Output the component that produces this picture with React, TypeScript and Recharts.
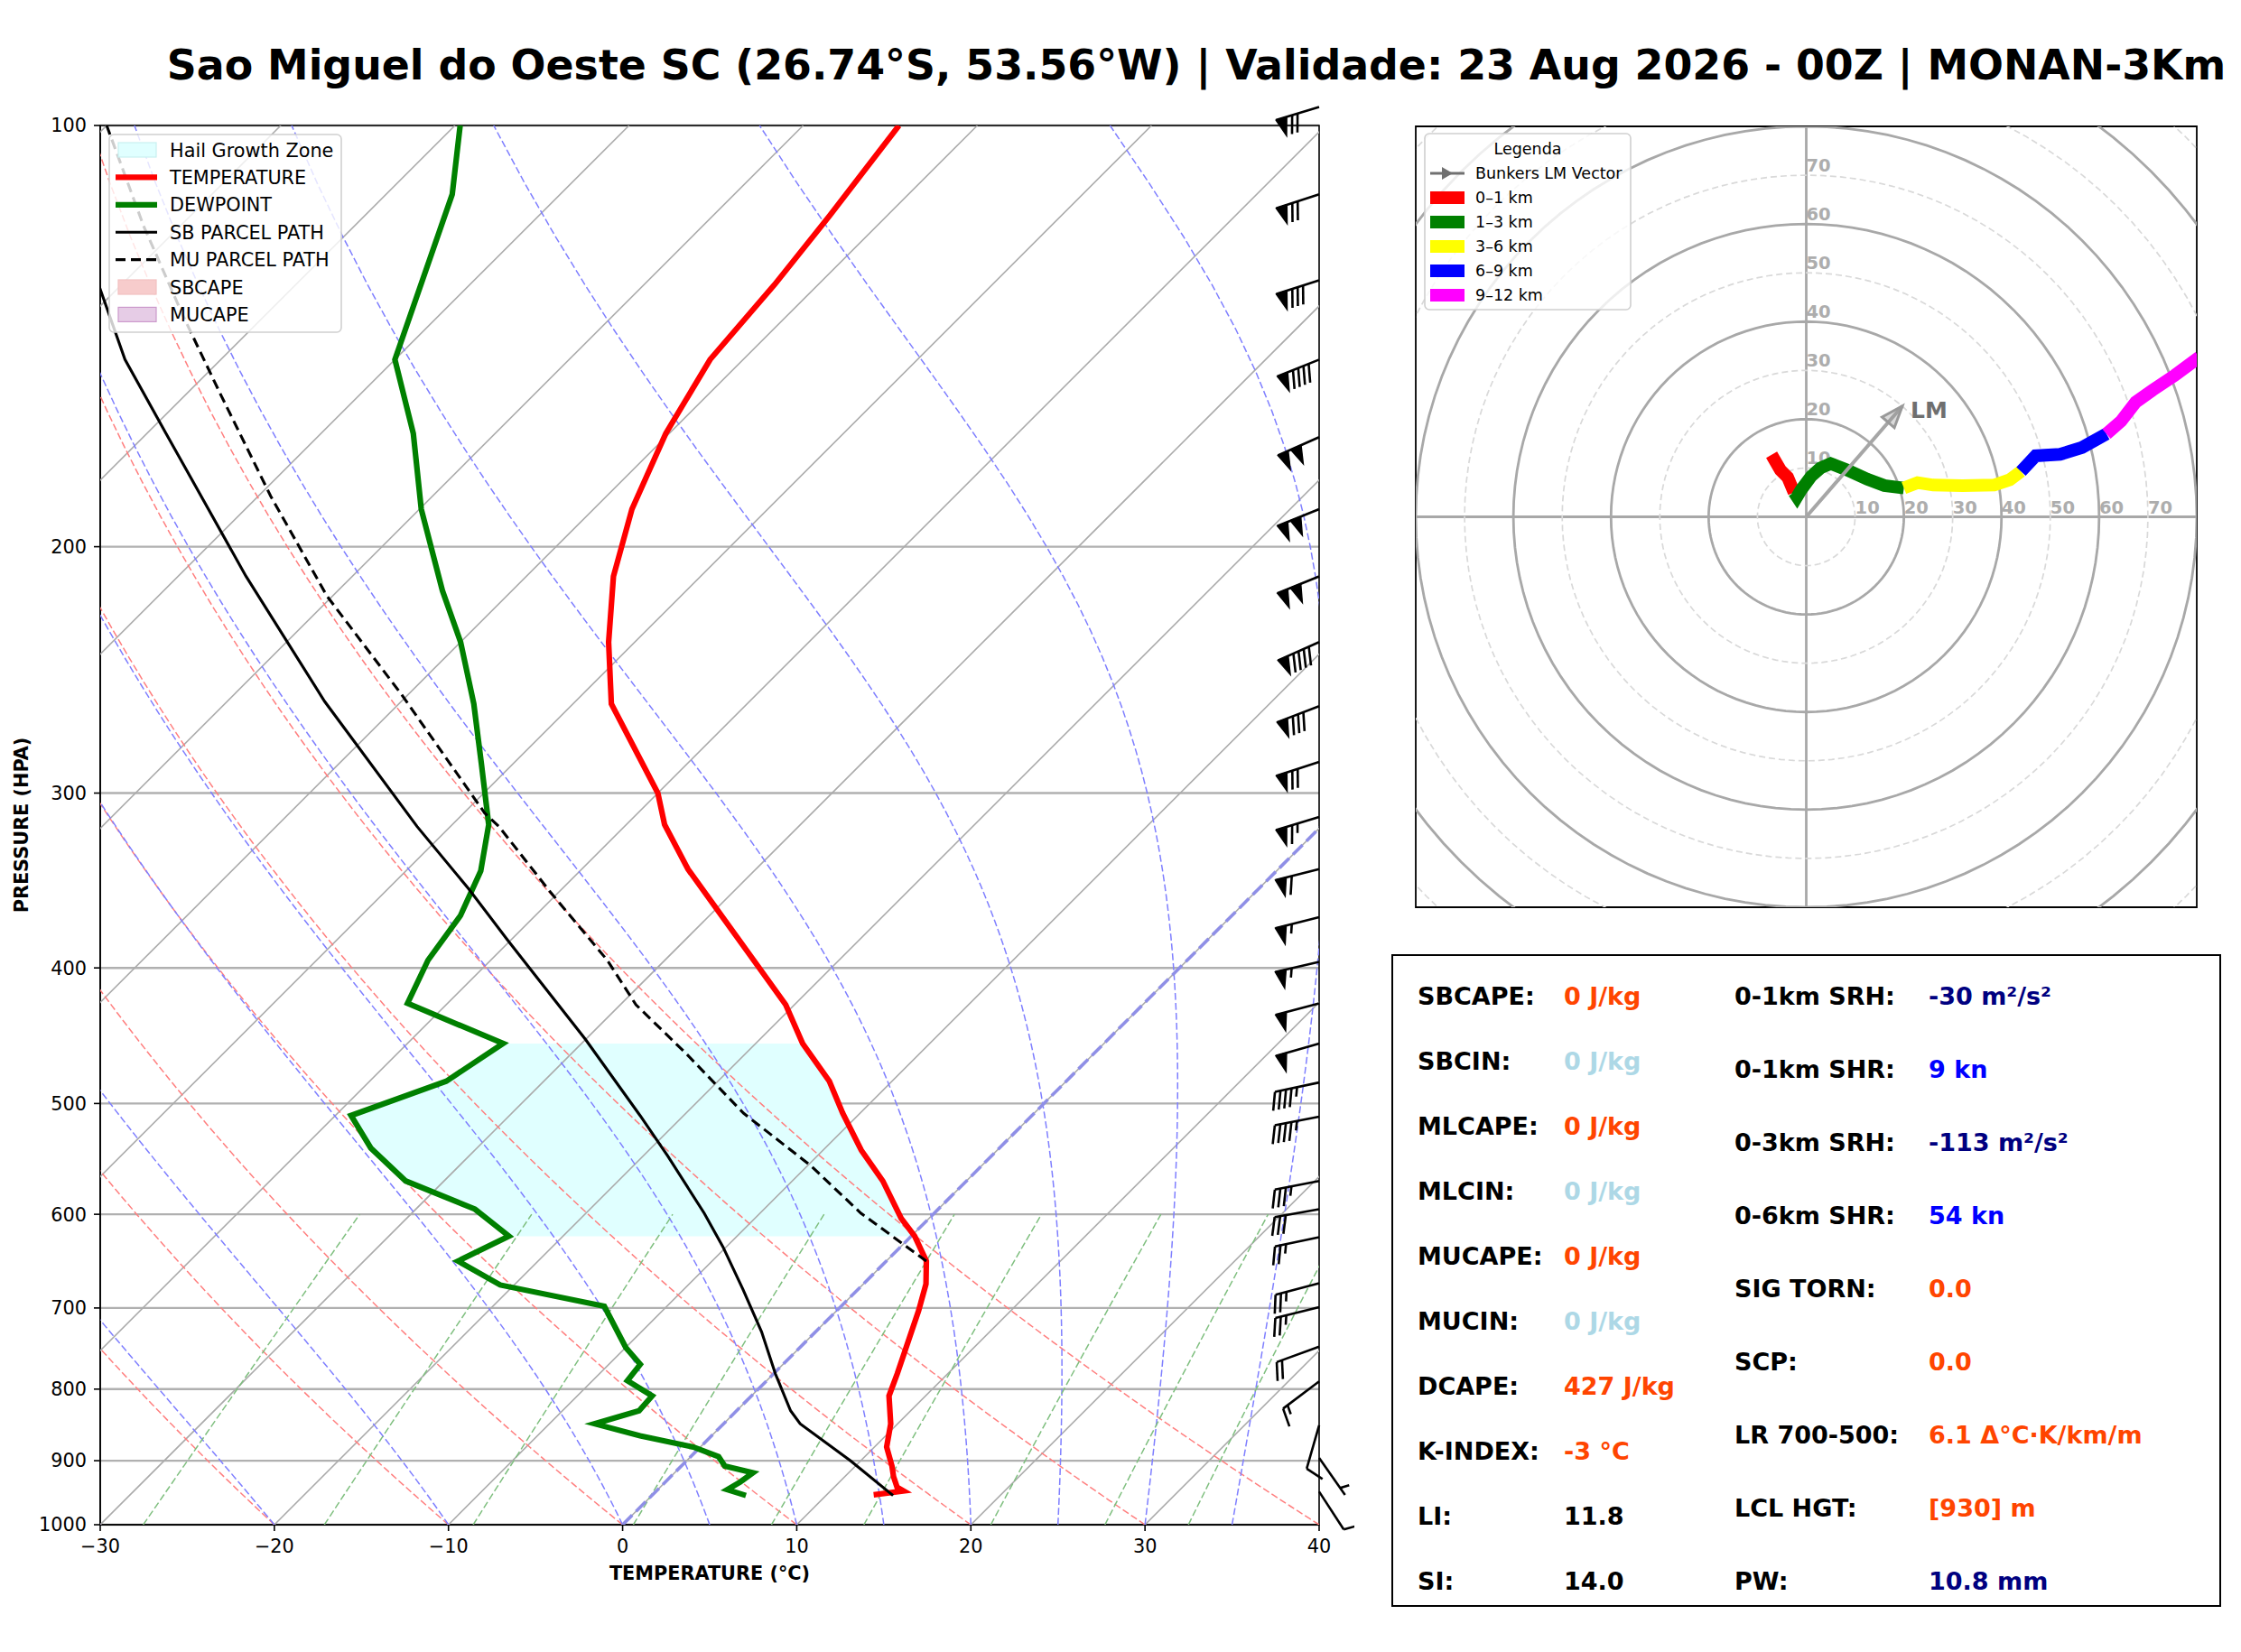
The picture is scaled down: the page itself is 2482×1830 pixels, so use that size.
import { CartesianGrid, ComposedChart, ReferenceArea, ReferenceLine, Scatter, XAxis, YAxis } from "recharts";

const FONT = '"DejaVu Sans", Verdana, sans-serif';

// figure layout, in px
const FIG_W = 2482;
const FIG_H = 1830;
const SKEW_LEFT = 111;
const SKEW_TOP = 139;
const SKEW_W = 1350;
const SKEW_H = 1550;
const SKEW_CHART_W = 1500;
const SKEW_CHART_H = 1780;
const Y_AXIS_W = 100;
const X_AXIS_H = 64;
const HODO_LEFT = 1568;
const HODO_TOP = 140;
const HODO_SIZE = 865;

const T_MIN = -30;
const T_MAX = 40;
const P_TOP = 100;
const P_BOTTOM = 1000;
const BARB_P_TOP = 90;
// degC shift per decade of pressure, gives 45 degree isotherms
const SKEW = ((T_MAX - T_MIN) * SKEW_H) / SKEW_W;

const temperatureTicks = [-30, -20, -10, 0, 10, 20, 30, 40];
const pressureTicks = [100, 200, 300, 400, 500, 600, 700, 800, 900, 1000];

// sounding
const tempPressure = [100, 116, 130, 147, 166, 188, 210, 234, 259, 300, 316, 340, 393, 425, 453, 482, 508, 540, 568, 604, 622, 648, 673, 703, 747, 780, 809, 847, 880, 908, 924, 940, 946, 952];
const temperature = [-64.5, -63.3, -62.5, -61.9, -60.2, -57.8, -55.0, -51.5, -47.8, -40.0, -37.8, -33.9, -25.2, -20.5, -17.3, -13.6, -11.0, -7.8, -4.8, -1.6, 0.2, 2.3, 3.6, 4.7, 6.1, 7.1, 7.9, 9.6, 10.7, 12.1, 12.8, 13.6, 14.2, 12.7];

const dewPressure = [100, 112, 147, 166, 188, 215, 234, 259, 286, 316, 341, 367, 395, 424, 453, 482, 510, 538, 568, 595, 622, 648, 674, 698, 747, 768, 789, 809, 829, 847, 864, 880, 894, 908, 918, 932, 944, 953];
const dewpoint = [-89.7, -86.2, -80.0, -74.7, -69.9, -64.0, -60.0, -55.7, -51.8, -47.9, -45.7, -44.3, -43.6, -42.3, -34.5, -35.6, -39.1, -36.1, -32.2, -26.6, -23.1, -24.6, -20.8, -13.6, -10.0, -8.2, -8.0, -5.7, -5.6, -7.4, -4.1, -0.4, 1.6, 2.5, 4.5, 4.3, 4.0, 5.4];

const sbParcelPressure = [953, 900, 847, 829, 780, 728, 679, 633, 599, 545, 510, 450, 382, 351, 317, 258, 210, 166, 147, 130];
const sbParcelTemp = [13.85, 9.4, 4.4, 3.1, 0.1, -3.1, -6.6, -10.2, -13.2, -18.6, -22.5, -30.0, -40.2, -45.4, -51.9, -64.4, -76.1, -88.9, -95.5, -101.3];

const muParcelPressure = [648, 599, 554, 508, 460, 425, 395, 353, 317, 310, 255, 217, 184, 156, 137, 118, 100];
const muParcelTemp = [2.3, -4.2, -9.8, -16.7, -23.5, -29.1, -33.3, -40.5, -47.2, -48.8, -60.4, -70.3, -79.3, -87.9, -94.6, -102.1, -110.0];

const hailZone = [453, 622];

// wind barbs: pressure, direction (deg), speed (kt)
const barbPressure = [97, 112, 129, 147, 167, 188, 210, 234, 260, 285, 312, 340, 368, 396, 424, 453, 483, 511, 568, 595, 623, 672, 699, 746, 790, 849, 896, 947];
const barbDirection = [253, 252, 252, 248, 246, 248, 248, 246, 249, 252, 253, 256, 256, 257, 255, 254, 258, 259, 259, 260, 258, 255, 256, 250, 233, 196, 145, 147];
const barbSpeed = [70, 70, 80, 90, 100, 100, 100, 90, 80, 70, 65, 60, 55, 55, 50, 50, 45, 45, 35, 30, 25, 25, 25, 20, 15, 10, 5, 10];

// background lines of the diagram
const isothermTemps = [-110, -100, -90, -80, -70, -60, -50, -40, -30, -20, -10, 0, 10, 20, 30, 40];
const dryAdiabatTemps = [-30, -20, -10, 0, 10, 20, 30, 40];
const moistAdiabatTemps = [-30, -20, -10, 0, 5, 10, 15, 20, 25, 30, 35];
const mixingRatios = [0.4, 1, 2, 4, 7, 10, 16, 24, 32];

// hodograph (kt), one pair of arrays per layer
const hodoU01 = [-7.1, -5.3, -3.8, -2.5];
const hodoV01 = [12.7, 9.6, 8.1, 5.0];
const hodoU13 = [-2.5, -1.9, -1.0, 1.0, 2.9, 5.0, 8.4, 12.5, 16.0, 20.0];
const hodoV13 = [5.0, 4.1, 5.6, 8.3, 10.0, 10.9, 9.6, 7.7, 6.4, 5.9];
const hodoU36 = [20.0, 22.8, 26.0, 32.0, 38.5, 41.7, 44.0];
const hodoV36 = [5.9, 7.0, 6.5, 6.4, 6.5, 7.6, 9.3];
const hodoU69 = [44.0, 47.0, 52.0, 56.5, 61.5];
const hodoV69 = [9.3, 12.5, 12.8, 14.2, 17.0];
const hodoU912 = [61.5, 64.5, 67.5, 71.0, 75.5, 80.5];
const hodoV912 = [17.0, 19.6, 23.5, 26.0, 29.0, 32.7];
const hodoLabels = ["0–1 km", "1–3 km", "3–6 km", "6–9 km", "9–12 km"];
const hodoColors = ["#ff0000", "#008000", "#ffff00", "#0000ff", "#ff00ff"];
const bunkersLM = [19.7, 22.7];
const ringLabels = [10, 20, 30, 40, 50, 60, 70];
const solidRings = [20, 40, 60, 80, 100];
const dashedRings = [10, 30, 50, 70, 90, 110];

// indices panel
const leftLabels = ["SBCAPE:", "SBCIN:", "MLCAPE:", "MLCIN:", "MUCAPE:", "MUCIN:", "DCAPE:", "K-INDEX:", "LI:", "SI:"];
const leftValues = ["0 J/kg", "0 J/kg", "0 J/kg", "0 J/kg", "0 J/kg", "0 J/kg", "427 J/kg", "-3 °C", "11.8", "14.0"];
const leftColors = ["#ff4500", "#add8e6", "#ff4500", "#add8e6", "#ff4500", "#add8e6", "#ff4500", "#ff4500", "#000000", "#000000"];
const rightLabels = ["0-1km SRH:", "0-1km SHR:", "0-3km SRH:", "0-6km SHR:", "SIG TORN:", "SCP:", "LR 700-500:", "LCL HGT:", "PW:"];
const rightValues = ["-30 m²/s²", "9 kn", "-113 m²/s²", "54 kn", "0.0", "0.0", "6.1 Δ°C·K/km/m", "[930] m", "10.8 mm"];
const rightColors = ["#000080", "#0000ff", "#000080", "#0000ff", "#ff4500", "#ff4500", "#ff4500", "#ff4500", "#000080"];

const TITLE = "Sao Miguel do Oeste SC (26.74°S, 53.56°W) | Validade: 23 Aug 2026 - 00Z | MONAN-3Km";

// thermodynamics for the reference curves
const RD = 287.04749;
const CP = 1004.6662;
const LV = 2.50084e6;
const EPS = 0.62196;

const skewX = (t: number, p: number) => t + SKEW * Math.log10(1000 / p);

const curvePressures: number[] = [];
for (let p = 1000; p >= 100; p -= 10) curvePressures.push(p);

function satVapor(tK: number) {
  const tc = tK - 273.15;
  return 6.112 * Math.exp((17.67 * tc) / (tc + 243.5));
}

function moistGradient(tK: number, p: number) {
  const es = satVapor(tK);
  const rs = (EPS * es) / (p - es);
  return (RD * tK + LV * rs) / (CP + (LV * LV * rs * EPS) / (RD * tK * tK)) / p;
}

function moistAdiabat(t0: number) {
  const pts = [{ p: 1000, x: skewX(t0, 1000) }];
  let t = t0 + 273.15;
  let p = 1000;
  const dp = -5;
  while (p > 100) {
    const k1 = moistGradient(t, p);
    const k2 = moistGradient(t + (dp / 2) * k1, p + dp / 2);
    const k3 = moistGradient(t + (dp / 2) * k2, p + dp / 2);
    const k4 = moistGradient(t + dp * k3, p + dp);
    t += (dp / 6) * (k1 + 2 * k2 + 2 * k3 + k4);
    p += dp;
    if (p % 10 === 0) pts.push({ p, x: skewX(t - 273.15, p) });
  }
  return pts;
}

function dryAdiabat(t0: number) {
  return curvePressures.map((p) => ({ p, x: skewX((t0 + 273.15) * Math.pow(p / 1000, RD / CP) - 273.15, p) }));
}

function mixingLine(w: number) {
  const r = w / 1000;
  return [1000, 950, 900, 850, 800, 750, 700, 650, 600].map((p) => {
    const lnE = Math.log((r * p) / (EPS + r) / 6.112);
    return { p, x: skewX((243.5 * lnE) / (17.67 - lnE), p) };
  });
}

const toPoints = (ps: number[], ts: number[]) => ps.map((p, i) => ({ p, x: skewX(ts[i], p) }));

const tempPoints = toPoints(tempPressure, temperature);
const dewPoints = toPoints(dewPressure, dewpoint);
const sbParcelPoints = toPoints(sbParcelPressure, sbParcelTemp);
const muParcelPoints = toPoints(muParcelPressure, muParcelTemp);
const inHail = (d: { p: number }) => d.p >= hailZone[0] && d.p <= hailZone[1];
const hailPolygon = [...tempPoints.filter(inHail), ...dewPoints.filter(inHail).reverse()];

const barbPoints = barbPressure.map((p, i) => ({ p, x: T_MAX, dir: barbDirection[i], spd: barbSpeed[i] }));

const hodoSegments = [
  [hodoU01, hodoV01],
  [hodoU13, hodoV13],
  [hodoU36, hodoV36],
  [hodoU69, hodoV69],
  [hodoU912, hodoV912],
].map(([us, vs]) => us.map((u, i) => ({ u, v: vs[i] })));

const ring = (r: number) => {
  const pts = [];
  for (let a = 0; a <= 360; a += 3) {
    pts.push({ u: r * Math.cos((a * Math.PI) / 180), v: r * Math.sin((a * Math.PI) / 180) });
  }
  return pts;
};

const noDot = () => <g />;
const minusTick = (v: number) => (v < 0 ? `\u2212${Math.abs(v)}` : `${v}`);

const BARB_LEN = 50;

function WindBarb(props: any) {
  const { cx, cy, payload } = props;
  if (typeof cx !== "number" || typeof cy !== "number" || !payload) return <g />;
  const a = (payload.dir * Math.PI) / 180;
  const dx = Math.sin(a);
  const dy = -Math.cos(a);
  const nx = dy;
  const ny = -dx;
  const sp = BARB_LEN * 0.125;
  const h = BARB_LEN * 0.4;
  const w = BARB_LEN * 0.25;
  const pt = (s: number, o: number) => `${(cx + dx * s + nx * o).toFixed(2)},${(cy + dy * s + ny * o).toFixed(2)}`;

  let rest = payload.spd;
  const flags = Math.floor(rest / 50);
  rest -= flags * 50;
  const fulls = Math.floor(rest / 10);
  rest -= fulls * 10;
  const half = rest >= 5;

  const parts = [];
  let off = BARB_LEN;
  for (let i = 0; i < flags; i++) {
    if (off !== BARB_LEN) off += sp / 2;
    parts.push(<polygon key={`f${i}`} points={`${pt(off, 0)} ${pt(off - w / 2, h)} ${pt(off - w, 0)}`} fill="#000" strokeWidth={1.4} />);
    off -= w + sp;
  }
  for (let i = 0; i < fulls; i++) {
    parts.push(<polyline key={`b${i}`} points={`${pt(off, 0)} ${pt(off + w / 2, h)}`} />);
    off -= sp;
  }
  if (half) {
    if (off === BARB_LEN) off -= 1.5 * sp;
    parts.push(<polyline key="h" points={`${pt(off, 0)} ${pt(off + w / 4, h / 2)}`} />);
  }

  return (
    <g stroke="#000" strokeWidth={2.6} fill="none">
      <polyline points={`${pt(0, 0)} ${pt(BARB_LEN, 0)}`} />
      {parts}
    </g>
  );
}

function RingLabel(props: any) {
  const { cx, cy, payload } = props;
  if (typeof cx !== "number" || !payload) return <g />;
  return (
    <text x={cx} y={cy - 4} fill="#adadad" fontSize={19.5} fontWeight="bold" fontFamily={FONT}>
      {payload.label}
    </text>
  );
}

function ArrowTip(props: any) {
  const { cx, cy, payload } = props;
  if (typeof cx !== "number" || !payload || !payload.tip) return <g />;
  const len = Math.hypot(payload.u, payload.v);
  const ux = payload.u / len;
  const uy = -payload.v / len;
  const bx = cx - ux * 24;
  const by = cy - uy * 24;
  const corners = `${cx},${cy} ${bx - uy * 9},${by + ux * 9} ${bx + uy * 9},${by - ux * 9}`;
  return (
    <g>
      <polygon points={corners} fill="rgba(150,150,150,0.35)" stroke="#999999" strokeWidth={3} />
      <text x={cx + 9} y={cy + 13} fill="#6f6f6f" fontSize={25} fontWeight="bold" fontFamily={FONT}>
        LM
      </text>
    </g>
  );
}

function SkewTChart() {
  return (
    <ComposedChart
      width={SKEW_CHART_W}
      height={SKEW_CHART_H}
      margin={{
        top: SKEW_TOP,
        left: SKEW_LEFT - Y_AXIS_W,
        right: SKEW_CHART_W - SKEW_LEFT - SKEW_W,
        bottom: SKEW_CHART_H - SKEW_TOP - SKEW_H - X_AXIS_H,
      }}
    >
      <CartesianGrid horizontal vertical={false} stroke="#b0b0b0" strokeWidth={2.4} />
      <XAxis
        dataKey="x"
        type="number"
        domain={[T_MIN, T_MAX]}
        ticks={temperatureTicks}
        interval={0}
        allowDataOverflow
        height={X_AXIS_H}
        tickSize={7}
        tickMargin={9}
        tickFormatter={minusTick}
        tick={{ fontSize: 20.8, fontFamily: FONT, fill: "#000" }}
        axisLine={{ stroke: "#000", strokeWidth: 1.6 }}
        tickLine={{ stroke: "#000", strokeWidth: 1.6 }}
        label={(props: any) => {
          const vb = props.viewBox || {};
          return (
            <text x={vb.x + vb.width / 2} y={vb.y + 61} textAnchor="middle" fontSize={20.8} fontWeight="bold" fontFamily={FONT}>
              TEMPERATURE (°C)
            </text>
          );
        }}
      />
      <YAxis
        dataKey="p"
        type="number"
        scale="log"
        domain={[P_TOP, P_BOTTOM]}
        reversed
        allowDataOverflow
        ticks={pressureTicks}
        interval={0}
        width={Y_AXIS_W}
        tickSize={7}
        tickMargin={8}
        tick={{ fontSize: 20.8, fontFamily: FONT, fill: "#000" }}
        axisLine={{ stroke: "#000", strokeWidth: 1.6 }}
        tickLine={{ stroke: "#000", strokeWidth: 1.6 }}
        label={(props: any) => {
          const vb = props.viewBox || {};
          const cy = vb.y + vb.height / 2;
          return (
            <text x={24} y={cy} transform={`rotate(-90 24 ${cy})`} textAnchor="middle" dominantBaseline="central" fontSize={20.8} fontWeight="bold" fontFamily={FONT}>
              PRESSURE (HPA)
            </text>
          );
        }}
      />

      <Scatter data={hailPolygon} shape={noDot} line={{ stroke: "none", fill: "#e0ffff" }} isAnimationActive={false} />

      {isothermTemps.map((t) => (
        <Scatter
          key={`iso${t}`}
          data={[{ p: P_BOTTOM, x: skewX(t, P_BOTTOM) }, { p: P_TOP, x: skewX(t, P_TOP) }]}
          shape={noDot}
          line={{ stroke: "#ababab", strokeWidth: 1.6 }}
          isAnimationActive={false}
        />
      ))}
      {dryAdiabatTemps.map((t) => (
        <Scatter key={`dry${t}`} data={dryAdiabat(t)} shape={noDot} line={{ stroke: "#ff7f7f", strokeWidth: 1.5, strokeDasharray: "7.7 3.3" }} isAnimationActive={false} />
      ))}
      {moistAdiabatTemps.map((t) => (
        <Scatter key={`moist${t}`} data={moistAdiabat(t)} shape={noDot} line={{ stroke: "#7f7fff", strokeWidth: 1.5, strokeDasharray: "7.7 3.3" }} isAnimationActive={false} />
      ))}
      {mixingRatios.map((w) => (
        <Scatter key={`mix${w}`} data={mixingLine(w)} shape={noDot} line={{ stroke: "#7fbf7f", strokeWidth: 1.5, strokeDasharray: "7.7 3.3" }} isAnimationActive={false} />
      ))}
      <Scatter
        data={[{ p: P_BOTTOM, x: skewX(0, P_BOTTOM) }, { p: P_TOP, x: skewX(0, P_TOP) }]}
        shape={noDot}
        line={{ stroke: "#8f8fe6", strokeWidth: 3.6, strokeDasharray: "15 6" }}
        isAnimationActive={false}
      />

      <Scatter data={tempPoints} shape={noDot} line={{ stroke: "#ff0000", strokeWidth: 6.2 }} isAnimationActive={false} />
      <Scatter data={dewPoints} shape={noDot} line={{ stroke: "#008000", strokeWidth: 6.2 }} isAnimationActive={false} />
      <Scatter data={sbParcelPoints} shape={noDot} line={{ stroke: "#000", strokeWidth: 3.1 }} isAnimationActive={false} />
      <Scatter data={muParcelPoints} shape={noDot} line={{ stroke: "#000", strokeWidth: 3.1, strokeDasharray: "11 6" }} isAnimationActive={false} />

      <ReferenceArea x1={T_MIN} x2={T_MAX} y1={P_TOP} y2={P_BOTTOM} fill="none" stroke="#000" strokeWidth={1.6} fillOpacity={0} />
    </ComposedChart>
  );
}

function BarbChart() {
  const top = SKEW_TOP - SKEW_H * Math.log10(P_TOP / BARB_P_TOP);
  return (
    <ComposedChart
      width={SKEW_CHART_W}
      height={SKEW_CHART_H}
      margin={{ top, left: SKEW_LEFT, right: SKEW_CHART_W - SKEW_LEFT - SKEW_W, bottom: SKEW_CHART_H - SKEW_TOP - SKEW_H }}
    >
      <XAxis dataKey="x" type="number" domain={[T_MIN, T_MAX]} hide />
      <YAxis dataKey="p" type="number" scale="log" domain={[BARB_P_TOP, P_BOTTOM]} reversed hide />
      <Scatter data={barbPoints} shape={WindBarb} isAnimationActive={false} />
    </ComposedChart>
  );
}

function Hodograph() {
  const lm = [
    { u: 0, v: 0, tip: false },
    { u: bunkersLM[0], v: bunkersLM[1], tip: true },
  ];
  const labels = [
    ...ringLabels.map((r) => ({ u: r, v: 0, label: `${r}` })),
    ...ringLabels.map((r) => ({ u: 0, v: r, label: `${r}` })),
  ];
  return (
    <ComposedChart width={HODO_SIZE + 4} height={HODO_SIZE + 4} margin={{ top: 2, right: 2, bottom: 2, left: 2 }}>
      <XAxis dataKey="u" type="number" domain={[-80, 80]} allowDataOverflow hide />
      <YAxis dataKey="v" type="number" domain={[-80, 80]} allowDataOverflow hide />
      {dashedRings.map((r) => (
        <Scatter key={`dr${r}`} data={ring(r)} shape={noDot} line={{ stroke: "#d9d9d9", strokeWidth: 1.7, strokeDasharray: "7 4" }} isAnimationActive={false} />
      ))}
      {solidRings.map((r) => (
        <Scatter key={`sr${r}`} data={ring(r)} shape={noDot} line={{ stroke: "#a8a8a8", strokeWidth: 2.8 }} isAnimationActive={false} />
      ))}
      <ReferenceLine x={0} stroke="#a8a8a8" strokeWidth={2.8} />
      <ReferenceLine y={0} stroke="#a8a8a8" strokeWidth={2.8} />
      <Scatter data={labels} shape={RingLabel} isAnimationActive={false} />
      {hodoSegments.map((seg, i) => (
        <Scatter key={`hodo${i}`} data={seg} shape={noDot} line={{ stroke: hodoColors[i], strokeWidth: 14 }} isAnimationActive={false} />
      ))}
      <Scatter data={lm} shape={ArrowTip} line={{ stroke: "#a6a6a6", strokeWidth: 4 }} isAnimationActive={false} />
      <ReferenceArea x1={-80} x2={80} y1={-80} y2={80} fill="none" fillOpacity={0} stroke="#000" strokeWidth={1.8} />
    </ComposedChart>
  );
}

const skewLegend = [
  { label: "Hail Growth Zone", kind: "patch", color: "#e0ffff", edge: "#c8f0f0" },
  { label: "TEMPERATURE", kind: "line", color: "#ff0000", width: 6.2 },
  { label: "DEWPOINT", kind: "line", color: "#008000", width: 6.2 },
  { label: "SB PARCEL PATH", kind: "line", color: "#000", width: 3.1 },
  { label: "MU PARCEL PATH", kind: "dash", color: "#000", width: 3.1 },
  { label: "SBCAPE", kind: "patch", color: "#f7cccc", edge: "#f2c0c0" },
  { label: "MUCAPE", kind: "patch", color: "#e6cce6", edge: "#cc99cc" },
];

function Overlay() {
  const lgX = 121;
  const lgY = 149;
  const hlX = 1578;
  const hlY = 148;
  const panelX = 1542;
  const panelY = 1058;
  return (
    <svg width={FIG_W} height={FIG_H} style={{ position: "absolute", left: 0, top: 0, pointerEvents: "none" }} fontFamily={FONT}>
      <text x={1325} y={88} textAnchor="middle" fontSize={45.8} fontWeight="bold">
        {TITLE}
      </text>

      {/* skew-T legend */}
      <rect x={lgX} y={lgY} width={257} height={219} rx={5} fill="rgba(255,255,255,0.8)" stroke="#d0d0d0" strokeWidth={1.6} />
      {skewLegend.map((e, i) => {
        const y = lgY + 17 + i * 30.4;
        return (
          <g key={e.label}>
            {e.kind === "patch" ? (
              <rect x={lgX + 10} y={y - 8} width={42} height={16} fill={e.color} stroke={e.edge} strokeWidth={1.2} />
            ) : (
              <line x1={lgX + 7} x2={lgX + 53} y1={y} y2={y} stroke={e.color} strokeWidth={e.width} strokeDasharray={e.kind === "dash" ? "11 6" : undefined} />
            )}
            <text x={lgX + 67} y={y + 7.5} fontSize={20.8}>
              {e.label}
            </text>
          </g>
        );
      })}

      {/* hodograph legend */}
      <rect x={hlX} y={hlY} width={228} height={195} rx={5} fill="rgba(255,255,255,0.8)" stroke="#cfcfcf" strokeWidth={1.6} />
      <text x={hlX + 114} y={hlY + 23} textAnchor="middle" fontSize={17.5}>
        Legenda
      </text>
      <g>
        <line x1={hlX + 6} x2={hlX + 44} y1={hlY + 44} y2={hlY + 44} stroke="#707070" strokeWidth={3} />
        <polygon points={`${hlX + 31},${hlY + 44} ${hlX + 19},${hlY + 37} ${hlX + 19},${hlY + 51}`} fill="#707070" />
        <text x={hlX + 56} y={hlY + 50} fontSize={17.5}>
          Bunkers LM Vector
        </text>
      </g>
      {hodoLabels.map((label, i) => {
        const y = hlY + 71 + i * 27;
        return (
          <g key={label}>
            <rect x={hlX + 6} y={y - 7} width={38} height={14} fill={hodoColors[i]} />
            <text x={hlX + 56} y={y + 6} fontSize={17.5}>
              {label}
            </text>
          </g>
        );
      })}

      {/* indices panel */}
      <rect x={panelX} y={panelY} width={917} height={721} fill="#fff" stroke="#000" strokeWidth={2} />
      {leftLabels.map((label, i) => {
        const y = panelY + 45 + i * 72 + 9.8;
        return (
          <g key={label} fontSize={27} fontWeight="bold">
            <text x={panelX + 28} y={y} fill="#000">
              {label}
            </text>
            <text x={panelX + 190} y={y} fill={leftColors[i]}>
              {leftValues[i]}
            </text>
          </g>
        );
      })}
      {rightLabels.map((label, i) => {
        const y = panelY + 45 + i * 81 + 9.8;
        return (
          <g key={label} fontSize={27} fontWeight="bold">
            <text x={panelX + 379} y={y} fill="#000">
              {label}
            </text>
            <text x={panelX + 594} y={y} fill={rightColors[i]}>
              {rightValues[i]}
            </text>
          </g>
        );
      })}
    </svg>
  );
}

export default function App() {
  return (
    <div style={{ position: "relative", width: FIG_W, height: FIG_H, background: "#fff", fontFamily: FONT, overflow: "hidden" }}>
      <style>{"body{margin:0;}"}</style>
      <div style={{ position: "absolute", left: 0, top: 0 }}>
        <SkewTChart />
      </div>
      <div style={{ position: "absolute", left: 0, top: 0 }}>
        <BarbChart />
      </div>
      <div style={{ position: "absolute", left: HODO_LEFT - 2, top: HODO_TOP - 2 }}>
        <Hodograph />
      </div>
      <Overlay />
    </div>
  );
}
